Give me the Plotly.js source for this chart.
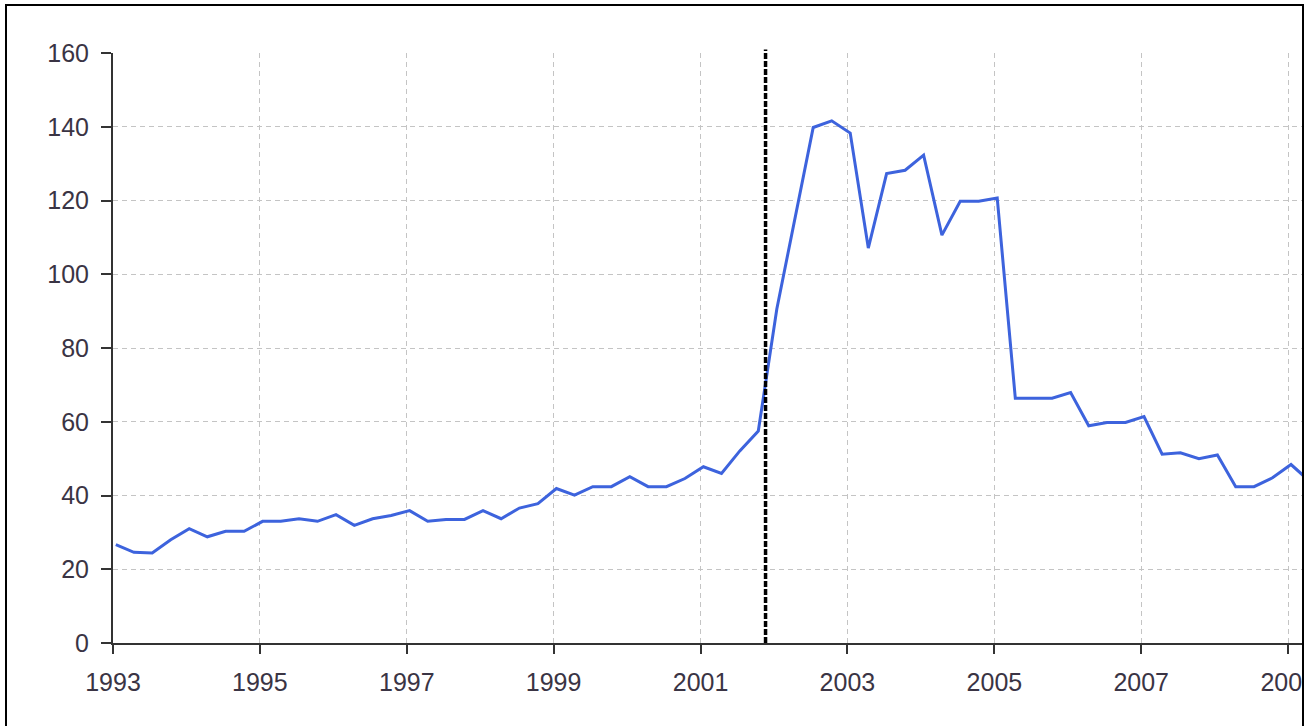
<!DOCTYPE html>
<html>
<head>
<meta charset="utf-8">
<script src="https://cdn.plot.ly/plotly-3.0.1.min.js"></script>
<style>
  html, body { margin: 0; padding: 0; background: #ffffff; overflow: hidden; }
  #frame {
    position: absolute; left: 5px; top: 4px;
    width: 1295px; height: 740px;
    border: 2px solid #000000;
    overflow: hidden; background: #ffffff;
  }
  #chart { position: absolute; left: 0; top: 0; width: 1448px; height: 717px; }
</style>
</head>
<body>
<div id="frame"><div id="chart"></div></div>
<script>
// Quarterly observations (dated mid-month of each quarter's first month)
const quarters = [
  "1993-01-15","1993-04-15","1993-07-15","1993-10-15",
  "1994-01-15","1994-04-15","1994-07-15","1994-10-15",
  "1995-01-15","1995-04-15","1995-07-15","1995-10-15",
  "1996-01-15","1996-04-15","1996-07-15","1996-10-15",
  "1997-01-15","1997-04-15","1997-07-15","1997-10-15",
  "1998-01-15","1998-04-15","1998-07-15","1998-10-15",
  "1999-01-15","1999-04-15","1999-07-15","1999-10-15",
  "2000-01-15","2000-04-15","2000-07-15","2000-10-15",
  "2001-01-15","2001-04-15","2001-07-15","2001-10-15",
  "2002-01-15","2002-04-15","2002-07-15","2002-10-15",
  "2003-01-15","2003-04-15","2003-07-15","2003-10-15",
  "2004-01-15","2004-04-15","2004-07-15","2004-10-15",
  "2005-01-15","2005-04-15","2005-07-15","2005-10-15",
  "2006-01-15","2006-04-15","2006-07-15","2006-10-15",
  "2007-01-15","2007-04-15","2007-07-15","2007-10-15",
  "2008-01-15","2008-04-15","2008-07-15","2008-10-15",
  "2009-01-15","2009-04-15"
];
const values = [
  26.7, 24.6, 24.4, 28.0,
  31.0, 28.8, 30.3, 30.3,
  33.0, 33.0, 33.7, 33.0,
  34.8, 31.9, 33.7, 34.6,
  35.9, 33.0, 33.5, 33.5,
  35.9, 33.7, 36.6, 37.8,
  41.9, 40.1, 42.4, 42.4,
  45.1, 42.4, 42.4, 44.6,
  47.8, 46.0, 52.1, 57.5,
  90.6, 115.0, 139.8, 141.6,
  138.3, 107.1, 127.3, 128.2,
  132.3, 110.6, 119.8, 119.8,
  120.7, 66.4, 66.4, 66.4,
  67.9, 58.9, 59.8, 59.8,
  61.4, 51.2, 51.6, 50.0,
  51.0, 42.4, 42.4, 44.8,
  48.4, 44.0
];
const eventDate = "2001-11-20";
const yTicks = [0, 20, 40, 60, 80, 100, 120, 140, 160];

const tickFont = { family: "Liberation Sans, Arial, sans-serif", size: 25, color: "#3a3444" };

const trace = {
  type: "scatter", mode: "lines",
  x: quarters, y: values,
  line: { color: "#3d63dd", width: 3 },
  hoverinfo: "x+y"
};

const layout = {
  width: 1448, height: 717,
  margin: { l: 106, r: 20, t: 47, b: 80, pad: 0 },
  paper_bgcolor: "#ffffff", plot_bgcolor: "#ffffff",
  showlegend: false,
  xaxis: {
    type: "date",
    range: ["1993-01-01", "2011-01-01"],
    tick0: "1993-01-01", dtick: "M24", tickformat: "%Y",
    showgrid: true, gridcolor: "#c4c4c4", gridwidth: 1, griddash: "5px,4px",
    showline: true, linecolor: "#333333", linewidth: 2,
    ticks: "outside", ticklen: 9, tickwidth: 2, tickcolor: "#333333",
    ticklabelstandoff: 7,
    zeroline: false, tickfont: tickFont
  },
  yaxis: {
    range: [0, 160], tickvals: yTicks,
    showgrid: true, gridcolor: "#c4c4c4", gridwidth: 1, griddash: "5px,4px",
    showline: true, linecolor: "#333333", linewidth: 2,
    ticks: "outside", ticklen: 10, tickwidth: 2, tickcolor: "#333333",
    ticklabelstandoff: 7,
    zeroline: false, tickfont: tickFont
  },
  shapes: [{
    type: "line", xref: "x", yref: "paper",
    x0: eventDate, x1: eventDate, y0: 0, y1: 1.006,
    line: { color: "#000000", width: 3.5, dash: "6px,2px" }
  }]
};

Plotly.newPlot("chart", [trace], layout, { displayModeBar: false, staticPlot: true });
</script>
</body>
</html>
